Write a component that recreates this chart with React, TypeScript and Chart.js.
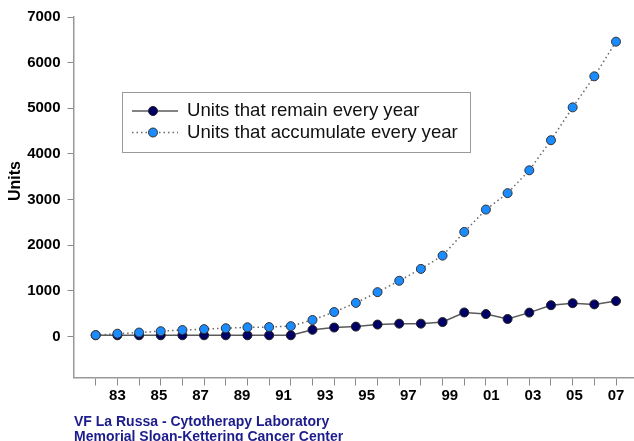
import React, { useEffect, useRef } from "react";
import { Chart, registerables } from "chart.js";

Chart.register(...registerables);

const FONT = "'Liberation Sans', Arial, Helvetica, sans-serif";

// series names
const seriesNames = ["Units that remain every year", "Units that accumulate every year"];

// values, one per plotted year slot (25 slots)
const remaining = [25, 25, 25, 25, 25, 25, 25, 25, 25, 25, 145, 195, 215, 260, 280, 280, 315, 525, 490, 382, 522, 684, 728, 702, 775];
const accumulated = [30, 60, 85, 115, 140, 160, 180, 200, 205, 225, 360, 535, 735, 970, 1220, 1480, 1770, 2290, 2780, 3140, 3640, 4300, 5020, 5700, 6460];

// tick labels on the x axis (spread from slot 1 to slot 24)
const xTickLabels = ["83", "85", "87", "89", "91", "93", "95", "97", "99", "01", "03", "05", "07"];
const xLabelFirstSlot = 1;
const xLabelLastSlot = 24;

// y axis ticks
const yTicks = [0, 1000, 2000, 3000, 4000, 5000, 6000, 7000];

const yTitle = "Units";
const footerLines = ["VF La Russa - Cytotherapy Laboratory", "Memorial Sloan-Kettering Cancer Center"];

export default function App() {
  const ref = useRef<HTMLCanvasElement>(null);

  useEffect(() => {
    const canvas = ref.current;
    if (!canvas) return;
    const xMin = -1.024;
    const xMax = 24.83;

    const overlayPlugin = {
      id: "overlay",
      afterDatasetsDraw(chart: any) {
        const ctx = chart.ctx as CanvasRenderingContext2D;
        ctx.save();
        // legend box
        ctx.fillStyle = "#ffffff";
        ctx.fillRect(122, 92, 349, 61);
        ctx.strokeStyle = "#9a9a9a";
        ctx.lineWidth = 1;
        ctx.strokeRect(122.5, 92.5, 348, 60);
        const rows = [111, 132.5];
        chart.data.datasets.forEach((ds: any, i: number) => {
          const y = rows[i];
          ctx.save();
          ctx.strokeStyle = ds.borderColor;
          ctx.lineWidth = ds.borderWidth;
          ctx.setLineDash(ds.borderDash || []);
          ctx.beginPath();
          ctx.moveTo(132, y);
          ctx.lineTo(178, y);
          ctx.stroke();
          ctx.setLineDash([]);
          ctx.beginPath();
          ctx.arc(153, y, ds.pointRadius, 0, Math.PI * 2);
          ctx.fillStyle = ds.pointBackgroundColor;
          ctx.fill();
          ctx.lineWidth = ds.pointBorderWidth;
          ctx.strokeStyle = ds.pointBorderColor;
          ctx.stroke();
          ctx.restore();
          ctx.fillStyle = "#111111";
          ctx.font = `18.6px ${FONT}`;
          ctx.textBaseline = "middle";
          ctx.textAlign = "left";
          ctx.fillText(ds.label, 187, y);
        });
        // y axis title
        ctx.translate(15.5, 181);
        ctx.rotate(-Math.PI / 2);
        ctx.font = `bold 16px ${FONT}`;
        ctx.fillStyle = "#000000";
        ctx.textAlign = "center";
        ctx.textBaseline = "middle";
        ctx.fillText(yTitle, 0, 0);
        ctx.restore();
      },
    };

    const noSidePadding = (s: any) => {
      s.paddingLeft = 0;
      s.paddingRight = 0;
    };

    const chart = new Chart(canvas, {
      type: "line",
      data: {
        datasets: [
          {
            label: seriesNames[0],
            data: remaining.map((v, i) => ({ x: i, y: v })),
            borderColor: "#5a5a5a",
            borderWidth: 1.5,
            pointRadius: 4.5,
            pointBackgroundColor: "#000066",
            pointBorderColor: "#222222",
            pointBorderWidth: 1,
            tension: 0,
            order: 1,
          },
          {
            label: seriesNames[1],
            data: accumulated.map((v, i) => ({ x: i, y: v })),
            borderColor: "#6a6a6a",
            borderWidth: 1.5,
            borderDash: [1.5, 3],
            pointRadius: 4.5,
            pointBackgroundColor: "#1a8cff",
            pointBorderColor: "#333333",
            pointBorderWidth: 1,
            tension: 0,
            order: 0,
          },
        ],
      },
      options: {
        animation: false,
        responsive: false,
        devicePixelRatio: 1,
        layout: { autoPadding: false, padding: { top: 17, left: 0, right: 0, bottom: 0 } },
        plugins: {
          legend: { display: false },
          tooltip: { enabled: false },
          title: { display: false },
        },
        scales: {
          x: {
            type: "linear",
            position: "bottom",
            min: xMin,
            max: xMax,
            weight: 0,
            afterBuildTicks: (s: any) => {
              s.ticks = remaining.map((_, i) => ({ value: i }));
            },
            ticks: { display: false },
            grid: { display: true, drawOnChartArea: false, drawTicks: true, tickLength: 8, color: "#8a8a8a", lineWidth: 1 },
            border: { display: true, color: "#9a9a9a", width: 1.5 },
            afterFit: (s: any) => {
              s.height = 8;
              noSidePadding(s);
            },
          },
          xl: {
            type: "linear",
            position: "bottom",
            min: xMin,
            max: xMax,
            weight: 1,
            afterBuildTicks: (s: any) => {
              const step = (xLabelLastSlot - xLabelFirstSlot) / (xTickLabels.length - 1);
              s.ticks = xTickLabels.map((_, k) => ({ value: xLabelFirstSlot + k * step }));
            },
            ticks: {
              callback: (_v: any, i: number) => xTickLabels[i],
              font: { family: FONT, size: 15, weight: "bold" },
              color: "#000000",
              padding: 1,
              maxRotation: 0,
              autoSkip: false,
            },
            grid: { display: false, drawTicks: false },
            border: { display: false },
            afterFit: (s: any) => {
              s.height = 55.5;
              noSidePadding(s);
            },
          },
          y: {
            type: "linear",
            min: -900,
            max: 7000,
            afterBuildTicks: (s: any) => {
              s.ticks = yTicks.map((v) => ({ value: v }));
            },
            ticks: {
              callback: (v: any) => String(v),
              font: { family: FONT, size: 15, weight: "bold" },
              color: "#000000",
              padding: 7,
            },
            grid: { display: true, drawOnChartArea: false, drawTicks: true, tickLength: 6, color: "#8a8a8a", lineWidth: 1 },
            border: { display: true, color: "#9a9a9a", width: 1.5 },
            afterFit: (s: any) => {
              s.width = 73.5;
            },
          },
        },
      } as any,
      plugins: [overlayPlugin],
    });
    return () => chart.destroy();
  }, []);

  return (
    <div style={{ position: "fixed", left: 0, top: 0, width: 634, height: 441, overflow: "hidden", background: "#ffffff" }}>
      <canvas ref={ref} width={634} height={441} style={{ display: "block" }} />
      <div
        style={{
          position: "absolute",
          left: 74,
          top: 414,
          font: `bold 14px ${FONT}`,
          lineHeight: "15px",
          color: "#1c1c8c",
          whiteSpace: "nowrap",
        }}
      >
        {footerLines.map((t) => (
          <div key={t}>{t}</div>
        ))}
      </div>
    </div>
  );
}
